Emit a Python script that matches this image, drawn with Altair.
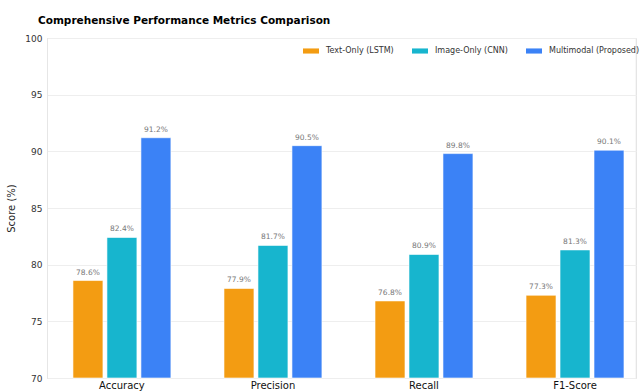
import altair as alt
import pandas as pd

metrics = ["Accuracy", "Precision", "Recall", "F1-Score"]
models = ["Text-Only (LSTM)", "Image-Only (CNN)", "Multimodal (Proposed)"]
text_only = [78.6, 77.9, 76.8, 77.3]
image_only = [82.4, 81.7, 80.9, 81.3]
multimodal = [91.2, 90.5, 89.8, 90.1]
colors = ["#F39C12", "#17B5CE", "#3B82F6"]
y_ticks = [70, 75, 80, 85, 90, 95, 100]

rows = []
for i, m in enumerate(metrics):
    for model, vals in zip(models, [text_only, image_only, multimodal]):
        rows.append({"Metric": m, "Model": model, "Score": vals[i],
                     "Label": f"{vals[i]:.1f}%"})
df = pd.DataFrame(rows)

FONT = "DejaVu Sans"

x_enc = alt.X("Metric:N", sort=metrics, title=None,
              scale=alt.Scale(paddingInner=0.338, paddingOuter=0.119, align=0.694),
              axis=alt.Axis(labelAngle=0, labelFont=FONT, labelFontSize=10,
                            labelColor="#111", domain=False, ticks=False,
                            labelPadding=2, grid=False))
xoff = alt.XOffset("Model:N", sort=models,
                   scale=alt.Scale(paddingInner=0.118, paddingOuter=0.03))
y_enc = alt.Y("Score:Q", title="Score (%)",
              scale=alt.Scale(domain=[70, 100], clamp=True, nice=False),
              axis=alt.Axis(values=y_ticks, labelFont=FONT, labelFontSize=9,
                            labelColor="#333", titleFont=FONT, titleFontSize=10,
                            titleFontWeight="normal", titleColor="#222",
                            domainColor="#e6e6e6", ticks=False, labelPadding=5,
                            gridColor="#eeeeee", titlePadding=8))

bars = alt.Chart(df).mark_bar(stroke="white", strokeWidth=0.6).encode(
    x=x_enc, xOffset=xoff, y=y_enc,
    y2=alt.datum(70),
    color=alt.Color("Model:N", sort=models,
                    scale=alt.Scale(domain=models, range=colors),
                    legend=alt.Legend(title=None, orient="none", direction="horizontal",
                                      legendX=256, legendY=5,
                                      symbolType="M-1,-0.32L1,-0.32L1,0.32L-1,0.32Z",
                                      symbolSize=256, symbolStrokeWidth=0,
                                      labelFont=FONT, labelFontSize=8,
                                      labelColor="#333", columnPadding=18,
                                      labelLimit=200, labelOffset=7)),
)

labels = alt.Chart(df).mark_text(dy=-8, font=FONT, fontSize=7.5, color="#777").encode(
    x=alt.X("Metric:N", sort=metrics), xOffset=alt.XOffset("Model:N", sort=models),
    y="Score:Q", text="Label:N",
)

right_line = alt.Chart(pd.DataFrame({"v": [0]})).mark_rule(color="#eeeeee").encode(
    x=alt.value(589), y=alt.value(0), y2=alt.value(340))

chart = alt.layer(bars, labels, right_line).properties(
    width=589, height=340,
    title=alt.TitleParams("Comprehensive Performance Metrics Comparison",
                          anchor="start", frame="group", font=FONT, fontSize=10.5,
                          fontWeight="bold", color="#000", dx=-9, offset=8),
    autosize=alt.AutoSizeParams(type="none"),
    padding={"left": 47, "top": 38, "right": 7, "bottom": 13},
).configure_view(stroke=None).configure(background="white")

chart.save("out.html", embed_options={"renderer": "svg", "actions": False})
